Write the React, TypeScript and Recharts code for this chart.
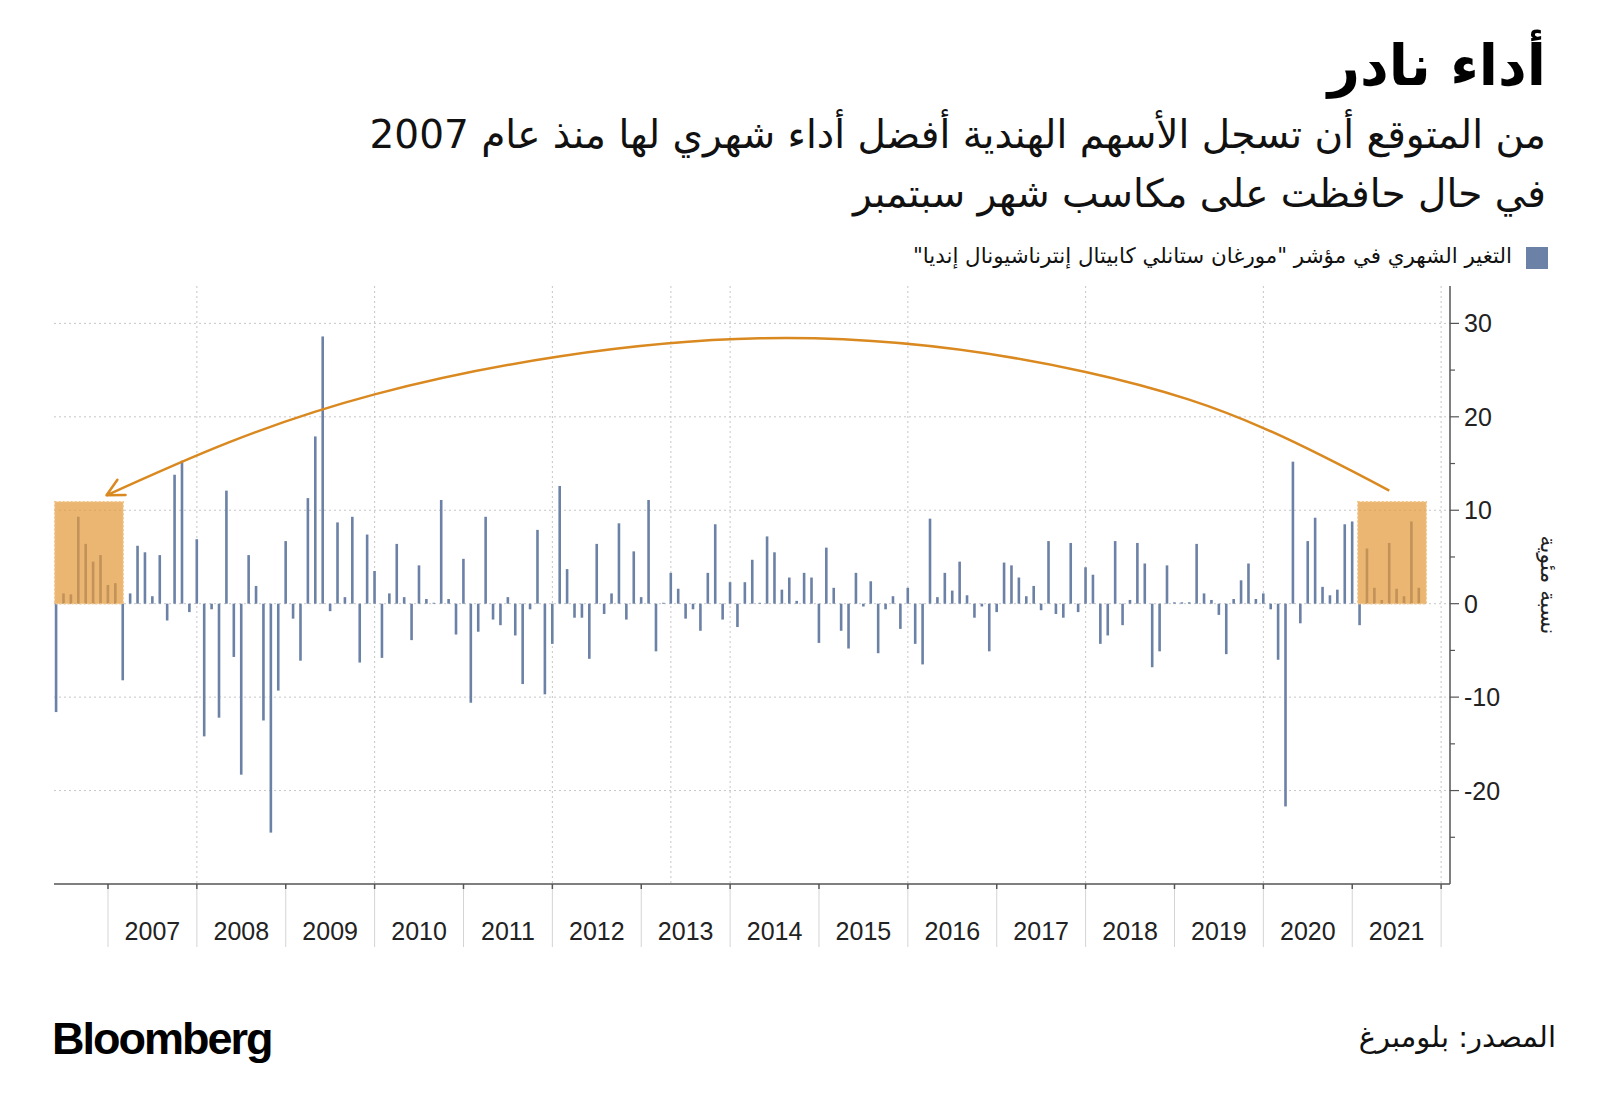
import React from "react";
import { Bar, CartesianGrid, ComposedChart, Line, ReferenceArea, XAxis, YAxis } from "recharts";

// monthly change (%), month-end values, first bar = May 2006, last = Sep 2021
const firstYear = 2006;
const firstMonth = 5;
const monthlyChange = [
  // 2006 (May - Dec)
  -11.6, 1.1, 1.0, 9.3, 6.4, 4.5, 5.2, 2.0,
  // 2007
  2.2, -8.2, 1.1, 6.2, 5.5, 0.8, 5.2, -1.8, 13.8, 15.3, -0.9, 6.9,
  // 2008
  -14.2, -0.6, -12.2, 12.1, -5.7, -18.3, 5.2, 1.9, -12.5, -24.5, -9.3, 6.7,
  // 2009
  -1.6, -6.1, 11.3, 17.9, 28.6, -0.8, 8.7, 0.7, 9.3, -6.3, 7.4, 3.5,
  // 2010
  -5.8, 1.1, 6.4, 0.7, -3.9, 4.1, 0.5, 0.1, 11.1, 0.5, -3.3, 4.8,
  // 2011
  -10.6, -3.0, 9.3, -1.7, -2.3, 0.7, -3.4, -8.6, -0.6, 7.9, -9.7, -4.3,
  // 2012
  12.6, 3.7, -1.5, -1.5, -5.9, 6.4, -1.1, 1.1, 8.6, -1.7, 5.6, 0.7,
  // 2013
  11.1, -5.1, 0.1, 3.3, 1.6, -1.6, -0.6, -2.9, 3.3, 8.5, -1.7, 2.3,
  // 2014
  -2.5, 2.3, 4.7, 0.1, 7.2, 5.5, 1.5, 2.8, 0.3, 3.3, 2.8, -4.2,
  // 2015
  6.0, 1.7, -2.9, -4.8, 3.3, -0.3, 2.4, -5.3, -0.6, 0.8, -2.7, 1.7,
  // 2016
  -4.3, -6.5, 9.1, 0.7, 3.3, 1.4, 4.5, 0.9, -1.5, -0.3, -5.1, -0.9,
  // 2017
  4.4, 4.1, 2.8, 0.8, 1.9, -0.7, 6.7, -1.1, -1.5, 6.5, -0.9, 3.9,
  // 2018
  3.1, -4.3, -3.4, 6.7, -2.3, 0.4, 6.5, 4.3, -6.8, -5.1, 4.1, 0.15,
  // 2019
  0.15, 0.15, 6.4, 1.1, 0.4, -1.2, -5.4, 0.5, 2.5, 4.3, 0.5, 1.1,
  // 2020
  -0.6, -6.0, -21.7, 15.2, -2.1, 6.7, 9.2, 1.8, 0.9, 1.5, 8.5, 8.8,
  // 2021 (Jan - Sep)
  -2.3, 5.9, 1.7, 0.4, 6.5, 1.6, 0.8, 8.8, 1.7,
];

const yearLabels = [
  "2007", "2008", "2009", "2010", "2011", "2012", "2013", "2014",
  "2015", "2016", "2017", "2018", "2019", "2020", "2021",
];
const yTicks = [-25, -20, -15, -10, -5, 0, 5, 10, 15, 20, 25, 30];
const yGridValues = [-20, -10, 0, 10, 20, 30];

// highlighted periods, in months counted from the start of 2006
const highlightBoxes = [
  { x1: 4.8, x2: 14.05, top: 10.9 },
  { x1: 180.75, x2: 190, top: 10.9 },
];
// curved arrow (months from start of 2006, %)
const arrowPath = [
  { x: 11.8, y: 11.6 },
  { x: 48, y: 22.4 },
  { x: 100, y: 28.4 },
  { x: 144, y: 24.8 },
  { x: 168, y: 18.8 },
  { x: 185, y: 12.1 },
];
// extra dotted vertical guides (every two years, plus one in 2013)
const vGridValues = [24, 48, 72, 88, 96, 120, 144, 168, 192];

const rows = monthlyChange.map((v, i) => ({ x: (firstMonth + i) + (firstYear - 2006) * 12, v }));
const yearTicks = [...yearLabels.map((_, i) => 12 * (i + 1)), 192];

const X_DOMAIN: [number, number] = [4.71, 193.2];
const PLOT_W = 1396;
const HALF_YEAR = (6 * PLOT_W) / (X_DOMAIN[1] - X_DOMAIN[0]);
const BAR_W = 2.6;

const BAR = "#6c81a6";
const ORANGE = "#d9891f";
const ARABIC = "'DejaVu Sans', sans-serif";
const LATIN = "'Liberation Sans', Arial, sans-serif";

function YearTick(props: any) {
  const { x, y, index } = props;
  const label = yearLabels[index];
  return (
    <g>
      <line x1={x} x2={x} y1={y} y2={y + 5} stroke="#555" strokeWidth={1.5} />
      <line x1={x} x2={x} y1={y + 5} y2={y + 63} stroke="#d4d4d4" />
      {label && (
        <text x={x + HALF_YEAR} y={y + 56} textAnchor="middle" fontSize={25} fill="#222" fontFamily={LATIN}>
          {label}
        </text>
      )}
    </g>
  );
}

function PctTick(props: any) {
  const { x, y, payload } = props;
  const major = payload.value % 10 === 0;
  return (
    <g>
      <line x1={x} x2={x + (major ? 9 : 5)} y1={y} y2={y} stroke="#555" strokeWidth={1.2} />
      {major && (
        <text x={x + 14} y={y} dy="0.36em" textAnchor="start" fontSize={25} fill="#222" fontFamily={LATIN}>
          {payload.value}
        </text>
      )}
    </g>
  );
}

// fixed-width bar centred on the month-end position
function ThinBar(props: any) {
  const { x, y, width, height, fill } = props;
  if (x == null || y == null) return <g />;
  const cx = x + width / 2;
  const top = height < 0 ? y + height : y;
  return <rect x={cx - BAR_W / 2} y={top} width={BAR_W} height={Math.abs(height)} fill={fill} />;
}

function ArrowHead(props: any) {
  const { cx, cy, index } = props;
  if (index !== 0) return <g key={`d${index}`} />;
  return (
    <path
      key="head"
      d={`M${cx + 10.9},${cy - 15.6} L${cx},${cy} L${cx + 19},${cy - 0.3}`}
      fill="none"
      stroke={ORANGE}
      strokeWidth={2.5}
      strokeLinecap="round"
      strokeLinejoin="round"
    />
  );
}

export default function App() {
  return (
    <div style={{ position: "absolute", left: 0, top: 0, width: 1600, height: 1119, background: "#fff", overflow: "hidden" }}>
      <ComposedChart width={1600} height={1000} data={rows} margin={{ top: 286, right: 0, bottom: 46, left: 54 }}>
        <CartesianGrid
          stroke="#c6c6c6"
          strokeDasharray="2 3"
          horizontalValues={yGridValues}
          verticalValues={vGridValues}
        />
        <XAxis
          dataKey="x"
          type="number"
          domain={X_DOMAIN}
          allowDataOverflow
          ticks={yearTicks}
          interval={0}
          tickSize={0}
          tickMargin={0}
          height={70}
          axisLine={{ stroke: "#555", strokeWidth: 1.5 }}
          tickLine={false}
          tick={<YearTick />}
        />
        <YAxis
          orientation="right"
          type="number"
          domain={[-30, 34]}
          allowDataOverflow
          ticks={yTicks}
          interval={0}
          tickSize={0}
          tickMargin={0}
          width={150}
          axisLine={{ stroke: "#555", strokeWidth: 1.5 }}
          tickLine={false}
          tick={<PctTick />}
          label={{
            content: (p: any) => {
              const vb = p.viewBox || { x: 1450, y: 286, width: 150, height: 598 };
              const cx = vb.x + 98;
              const cy = vb.y + vb.height / 2;
              return (
                <text
                  x={cx}
                  y={cy}
                  transform={`rotate(90, ${cx}, ${cy})`}
                  textAnchor="middle"
                  dominantBaseline="central"
                  fontSize={22}
                  fill="#222"
                  fontFamily={ARABIC}
                >
                  نسبة مئوية
                </text>
              );
            },
          }}
        />
        <Bar dataKey="v" fill={BAR} barSize={3} shape={<ThinBar />} isAnimationActive={false} />
        {highlightBoxes.map((b, i) => (
          <ReferenceArea
            key={i}
            x1={b.x1}
            x2={b.x2}
            y1={0}
            y2={b.top}
            fill="#e3993c"
            fillOpacity={0.72}
            stroke="#f1c488"
            strokeDasharray="2 2"
            strokeWidth={1.5}
            ifOverflow="visible"
            zIndex={350}
          />
        ))}
        <Line
          data={arrowPath}
          dataKey="y"
          type="natural"
          stroke={ORANGE}
          strokeWidth={2.5}
          dot={<ArrowHead />}
          activeDot={false}
          isAnimationActive={false}
        />
      </ComposedChart>

      <div style={{ position: "absolute", right: 54, top: 38, fontFamily: ARABIC, fontWeight: 700, fontSize: 56, lineHeight: 1, direction: "rtl", whiteSpace: "nowrap", color: "#000" }}>
        أداء نادر
      </div>
      <div style={{ position: "absolute", right: 54, top: 115, fontFamily: ARABIC, fontSize: 39, lineHeight: 1, direction: "rtl", whiteSpace: "nowrap", color: "#111" }}>
        من المتوقع أن تسجل الأسهم الهندية أفضل أداء شهري لها منذ عام 2007
      </div>
      <div style={{ position: "absolute", right: 54, top: 174, fontFamily: ARABIC, fontSize: 39, lineHeight: 1, direction: "rtl", whiteSpace: "nowrap", color: "#111" }}>
        في حال حافظت على مكاسب شهر سبتمبر
      </div>

      <div style={{ position: "absolute", left: 1526, top: 247, width: 22, height: 22, background: BAR }} />
      <div style={{ position: "absolute", right: 88, top: 245, fontFamily: ARABIC, fontSize: 21.4, lineHeight: 1, direction: "rtl", whiteSpace: "nowrap", color: "#111" }}>
        التغير الشهري في مؤشر "مورغان ستانلي كابيتال إنترناشيونال إنديا"
      </div>

      <div style={{ position: "absolute", left: 52, top: 1016, fontFamily: LATIN, fontWeight: 700, fontSize: 45, lineHeight: 1, letterSpacing: -2, color: "#000" }}>
        Bloomberg
      </div>
      <div style={{ position: "absolute", right: 44, top: 1023, fontFamily: ARABIC, fontSize: 29, lineHeight: 1, direction: "rtl", whiteSpace: "nowrap", color: "#111" }}>
        المصدر: بلومبرغ
      </div>
    </div>
  );
}
